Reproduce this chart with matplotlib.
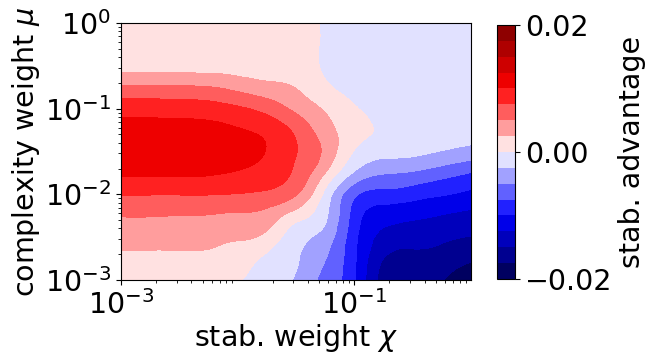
import numpy as np
import matplotlib
matplotlib.use("Agg")
from matplotlib import pyplot as plt
import matplotlib.tri as mtri

# grid of the map, in decades
log_chi = [-3.0, -2.75, -2.5, -2.25, -2.0, -1.75, -1.5, -1.25, -1.0, -0.75, -0.5, -0.25, 0.0]
log_mu = [-3.0, -2.75, -2.5, -2.25, -2.0, -1.75, -1.5, -1.25, -1.0, -0.75, -0.5, -0.25, 0.0]

# stab. advantage (x 1e-3), one list per chi value, read bottom (mu=1e-3) to top (mu=1)
adv_chi_m300 = [1.2, 2.0, 3.4, 5.1, 7.6, 10.4, 11.8, 11.2, 8.9, 5.4, 1.6, 1.2, 1.0]
adv_chi_m275 = [1.2, 2.0, 3.4, 5.1, 7.6, 10.4, 11.8, 11.2, 8.9, 5.4, 1.6, 1.2, 1.0]
adv_chi_m250 = [1.1, 2.0, 3.4, 5.0, 7.6, 10.4, 11.7, 11.1, 8.8, 5.3, 1.6, 1.2, 1.0]
adv_chi_m225 = [0.9, 1.9, 3.3, 4.9, 7.6, 10.3, 11.6, 10.9, 8.6, 5.1, 1.5, 1.1, 1.0]
adv_chi_m200 = [0.2, 1.4, 2.7, 4.6, 7.4, 9.8, 11.0, 10.2, 7.9, 4.2, 1.5, 1.1, 0.9]
adv_chi_m175 = [-1.2, -0.6, 1.8, 4.0, 7.0, 9.0, 9.9, 9.3, 6.6, 3.3, 1.3, 1.0, 0.8]
adv_chi_m150 = [-2.8, -2.3, -1.6, 1.2, 5.2, 7.0, 7.6, 6.9, 4.4, 2.4, 1.0, 0.8, 0.8]
adv_chi_m125 = [-5.8, -4.9, -3.6, -2.0, -0.7, 2.5, 4.4, 3.6, 2.2, 0.45, -0.3, -0.3, -0.3]
adv_chi_m100 = [-9.8, -9.6, -9.3, -8.6, -7.0, -2.8, -0.15, 1.0, 0.25, -0.8, -1.2, -1.4, -1.5]
adv_chi_m075 = [-16.0, -15.0, -13.2, -11.5, -8.4, -4.8, -1.6, -0.4, -1.0, -1.3, -1.5, -1.6, -1.6]
adv_chi_m050 = [-16.6, -15.7, -14.0, -12.0, -9.0, -5.3, -1.9, -1.4, -1.5, -1.6, -1.7, -1.8, -1.8]
adv_chi_m025 = [-17.4, -16.2, -14.5, -12.6, -9.8, -6.4, -2.6, -1.7, -1.8, -1.9, -1.9, -2.0, -2.0]
adv_chi_0 = [-18.6, -17.2, -15.1, -13.2, -10.6, -7.6, -3.4, -1.8, -1.9, -2.0, -2.0, -2.1, -2.1]

columns = [adv_chi_m300, adv_chi_m275, adv_chi_m250, adv_chi_m225, adv_chi_m200,
           adv_chi_m175, adv_chi_m150, adv_chi_m125, adv_chi_m100, adv_chi_m075,
           adv_chi_m050, adv_chi_m025, adv_chi_0]

LX, LY = np.meshgrid(log_chi, log_mu)
Z = np.array(columns).T * 1e-3

# same diagonal in every grid cell
nr, nc = Z.shape
tris = []
for i in range(nr - 1):
    for j in range(nc - 1):
        a = i * nc + j
        tris.append([a, a + 1, a + nc + 1])
        tris.append([a, a + nc + 1, a + nc])
tri = mtri.Triangulation(LX.ravel(), LY.ravel(), np.array(tris))

# smooth contours: let matplotlib refine the coarse grid (in decades)
interp = mtri.CubicTriInterpolator(tri, Z.ravel(), kind="min_E")
refiner = mtri.UniformTriRefiner(tri)
tri_f, z_f = refiner.refine_field(Z.ravel(), triinterpolator=interp, subdiv=3)
tri_f = mtri.Triangulation(10.0 ** tri_f.x, 10.0 ** tri_f.y, tri_f.triangles)

levels = np.linspace(-0.02, 0.02, 17)
fs = 20.5

fig = plt.figure(figsize=(6.45, 3.58), dpi=100)
ax = fig.add_axes([0.1876, 0.2179, 0.5426, 0.7179])
cf = ax.tricontourf(tri_f, z_f, levels=levels, cmap="seismic")
ax.set_xscale("log")
ax.set_yscale("log")
ax.set_xlim(1e-3, 1)
ax.set_ylim(1e-3, 1)
ax.set_xticks([1e-3, 1e-1])
ax.set_yticks([1e-3, 1e-2, 1e-1, 1])
ax.tick_params(labelsize=fs)
ax.set_xlabel(r"stab. weight $\chi$", fontsize=fs, labelpad=2)
ax.set_ylabel(r"complexity weight $\mu$", fontsize=fs, labelpad=2)

cax = fig.add_axes([0.7705, 0.2207, 0.0279, 0.7095])
cb = fig.colorbar(cf, cax=cax, ticks=[-0.02, 0, 0.02])
cb.ax.tick_params(labelsize=fs)
cb.set_label("stab. advantage", fontsize=fs)

fig.savefig("out.png", dpi=100)
